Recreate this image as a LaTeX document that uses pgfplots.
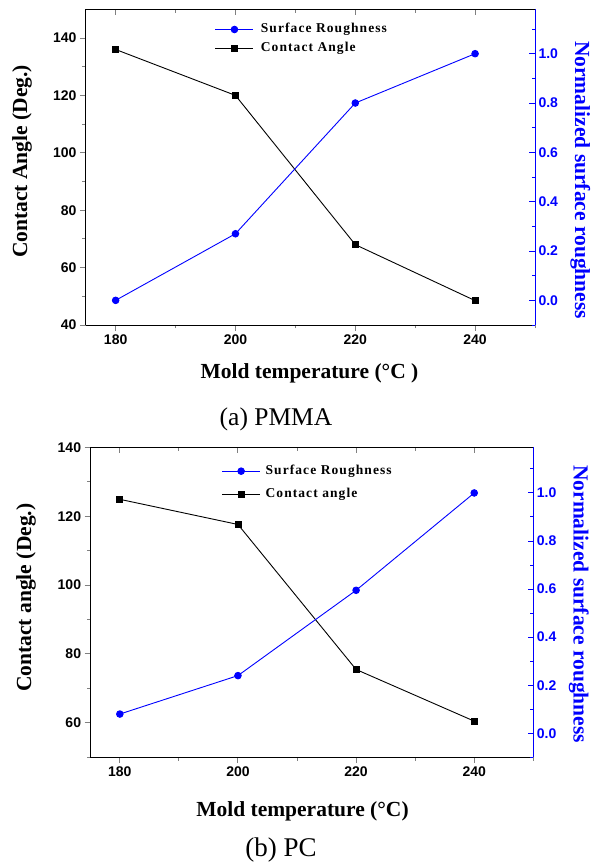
\documentclass[border=0pt]{standalone}
\usepackage{fontspec}
\setmainfont{Liberation Serif}
\setsansfont{Liberation Sans}
\usepackage{pgfplots}
\pgfplotsset{compat=1.18}

\pgfplotsset{
  base/.style={
    scale only axis,
    xmin=175, xmax=250,
    xtick={180,200,220,240},
    minor xtick={190,210,230,250},
    major tick length=5.7pt,
    minor tick length=3.3pt,
    axis line style={line width=1pt,-},
    tick style={line width=1pt},
    /pgf/number format/assume math mode=true,
    ticklabel style={font=\sffamily\bfseries\fontsize{14}{16}\selectfont},
    label style={font=\bfseries\fontsize{21.5}{24}\selectfont},
  },
  leftax/.style={
    base,
    axis x line*=bottom,
    axis y line*=left,
    tick align=outside,
  },
  rightax/.style={
    base,
    axis x line*=top,
    axis y line*=right,
    tick align=inside,
    xticklabels={},
    ymin=-0.1,
    ytick={0,0.2,0.4,0.6,0.8,1.0},
    minor ytick={-0.1,0.1,0.3,0.5,0.7,0.9,1.1},
    y axis line style={blue},
    ytick style={blue},
    yticklabel style={blue,/pgf/number format/.cd,fixed,fixed zerofill,precision=1},
    ylabel style={blue,rotate=180},
  },
  rough/.style={blue, line width=0.9pt, mark=*, mark size=3.3pt, mark options={solid,fill=blue}},
  angle/.style={black, line width=0.9pt, mark=square*, mark size=3pt, mark options={solid,fill=black}},
}

\begin{document}
\begin{tikzpicture}
\path[use as bounding box] (0,0) rectangle (592pt,-862pt);

% (a) PMMA
\begin{axis}[leftax,
  at={(85.7pt,-325pt)}, anchor=south west,
  width=449.3pt, height=315.7pt,
  ymin=40, ymax=150,
  ytick={40,60,80,100,120,140},
  minor ytick={50,70,90,110,130},
  xlabel={Mold temperature (°C )},
  ylabel={Contact Angle (Deg.)},
  xlabel style={at={(axis description cs:0.498,0)}, anchor=base, yshift=-53pt},
  ylabel style={at={(axis description cs:-0.1418,0.518)}, anchor=center},
]
\addplot[angle] coordinates {(180,136) (200,120) (220,68) (240,48.5)};
\end{axis}
\begin{axis}[rightax,
  at={(85.7pt,-325pt)}, anchor=south west,
  width=449.3pt, height=315.7pt,
  ymax=1.18,
  ylabel={Normalized surface roughness},
  ylabel style={at={(axis description cs:1.101,0.459)}, anchor=center},
  legend image code/.code={
    \draw[#1,mark=none] (0pt,0pt) -- (38pt,0pt);
    \draw[#1,only marks] plot coordinates {(19pt,0pt)};
  },
  legend style={draw=none, fill=none, inner sep=0pt, outer sep=0pt,
    anchor=north west, at={(axis description cs:0.2878,0.9566)},
    column sep=7pt, row sep=6pt,
    nodes={inner sep=0pt, text height=9.5pt, text depth=3.5pt, anchor=west,
      font=\bfseries\fontsize{13.5}{16}\selectfont\addfontfeature{LetterSpace=8}}},
]
\addplot[rough] coordinates {(180,0.0) (200,0.27) (220,0.80) (240,1.0)};
\addlegendentry{Surface Roughness}
\addlegendimage{angle}
\addlegendentry{Contact Angle}
\end{axis}

% (b) PC
\begin{axis}[leftax,
  at={(90.3pt,-757.3pt)}, anchor=south west,
  width=443pt, height=310pt,
  ymin=50, ymax=140,
  ytick={60,80,100,120,140},
  minor ytick={50,70,90,110,130},
  xlabel={Mold temperature (°C)},
  ylabel={Contact angle (Deg.)},
  xlabel style={at={(axis description cs:0.479,0)}, anchor=base, yshift=-59.4pt},
  ylabel style={at={(axis description cs:-0.145,0.515)}, anchor=center},
]
\addplot[angle] coordinates {(180,124.9) (200,117.6) (220,75.5) (240,60.5)};
\end{axis}
\begin{axis}[rightax,
  at={(90.3pt,-757.3pt)}, anchor=south west,
  width=443pt, height=310pt,
  ymax=1.19,
  ylabel={Normalized surface roughness},
  ylabel style={at={(axis description cs:1.103,0.494)}, anchor=center},
  legend image code/.code={
    \draw[#1,mark=none] (0pt,0pt) -- (38pt,0pt);
    \draw[#1,only marks] plot coordinates {(19pt,0pt)};
  },
  legend style={draw=none, fill=none, inner sep=0pt, outer sep=0pt,
    anchor=north west, at={(axis description cs:0.2966,0.944)},
    column sep=5pt, row sep=10pt,
    nodes={inner sep=0pt, text height=9.5pt, text depth=3.5pt, anchor=west,
      font=\bfseries\fontsize{13.5}{16}\selectfont\addfontfeature{LetterSpace=8}}},
]
\addplot[rough] coordinates {(180,0.08) (200,0.24) (220,0.595) (240,1.0)};
\addlegendentry{Surface Roughness}
\addlegendimage{angle}
\addlegendentry{Contact angle}
\end{axis}

\node[font=\fontsize{25.5}{28}\selectfont, anchor=base] at (276pt,-425pt) {(a) PMMA};
\node[font=\fontsize{27}{30}\selectfont, anchor=base] at (281pt,-856pt) {(b) PC};
\end{tikzpicture}
\end{document}
